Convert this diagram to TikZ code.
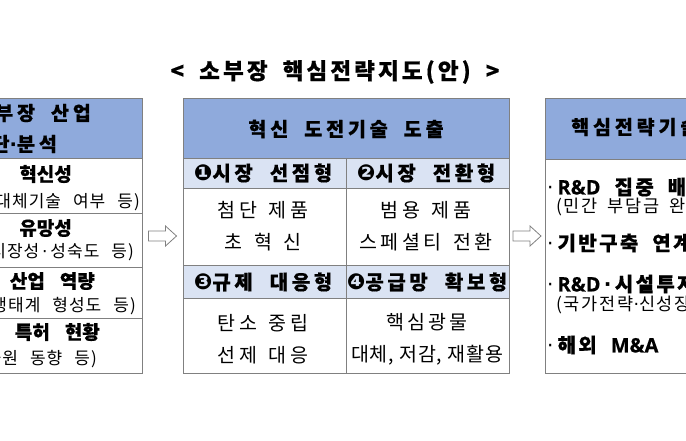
\documentclass[tikz,border=0pt]{standalone}
\usepackage{fontspec}
\setmainfont{Noto Sans CJK KR}[BoldFeatures={FakeBold=0.5}]
\newfontfamily\symfont{DejaVu Sans}
\newfontfamily\latinfont{Open Sans}[BoldFeatures={FakeBold=0.5}]
\definecolor{headblue}{HTML}{8FAADC}
\definecolor{rowblue}{HTML}{DAE3F3}
\definecolor{framegray}{HTML}{808080}
\newcommand{\numb}[1]{{\symfont\bfseries\fontsize{22}{22}\selectfont #1}}
\newcommand{\mdot}{{\symfont ·}}
\newcommand{\bul}{{\mdseries\symfont ·}\hspace{4pt}}
\newcommand{\lat}[1]{{\latinfont #1}}
\newcommand{\flowarrow}[1]{\draw[arrowline] (#1) ++(-14,-5) -- ++(17,0) -- ++(0,-5)
  -- ++(11,10) -- ++(-11,10) -- ++(0,-5) -- ++(-17,0) -- cycle;}
\tikzset{
  frame/.style={draw=framegray, line width=0.8pt},
  arrowline/.style={draw=framegray, fill=white, line width=0.8pt, line join=miter},
  titletxt/.style={font={\fontsize{22.5}{26}\selectfont\bfseries\addfontfeature{LetterSpace=14}\spaceskip=15pt\relax}},
  headtxt/.style={font={\fontsize{19.5}{23}\selectfont\bfseries\addfontfeature{LetterSpace=20}\spaceskip=16pt\relax}},
  subtxt/.style={font={\fontsize{20}{23}\selectfont\bfseries\addfontfeature{LetterSpace=18}\spaceskip=17pt\relax}},
  celltxt/.style={font={\fontsize{19.5}{32}\selectfont\addfontfeature{LetterSpace=17}\spaceskip=12pt\relax}, align=center},
  itemtxt/.style={font={\fontsize{19}{23}\selectfont\bfseries\spaceskip=15pt\relax}},
  plantxt/.style={font={\fontsize{20}{23}\selectfont\bfseries\addfontfeature{LetterSpace=12}\spaceskip=14pt\relax}},
  notetxt/.style={font={\fontsize{17}{20}\selectfont\addfontfeature{LetterSpace=6}\spaceskip=12pt\relax}},
  plannote/.style={font={\fontsize{17.5}{20}\selectfont\addfontfeature{LetterSpace=10}\spaceskip=10pt\relax}}
}
\begin{document}
\begin{tikzpicture}[x=1pt, y=-1pt, every node/.style={inner sep=0pt}]
\useasboundingbox (0,0) rectangle (686,440);
\clip (0,0) rectangle (686,440);
\node[titletxt] (title) at (335,72) {< 소부장 핵심전략지도(안) >};

% left panel
\filldraw[frame, fill=headblue] (-150,98) rectangle (142,158);
\draw[frame] (-150,158) rectangle (142,373);
\foreach \y in {213,267,318} \draw[frame] (-150,\y) -- (142,\y);
\node[headtxt, anchor=east] (diagA) at (91,113) {소부장 산업};
\node[headtxt, anchor=east] (diagB) at (57,144) {진단\mdot 분석};
\node[itemtxt, anchor=east] (critA) at (72,174) {혁신성};
\node[notetxt, anchor=east] (noteA) at (140,202) {(원천성, 대체기술 여부 등)};
\node[itemtxt, anchor=east] (critB) at (72,228) {유망성};
\node[notetxt, anchor=east] (noteB) at (134,252) {(시장성\,\mdot\,성숙도 등)};
\node[itemtxt, anchor=east] (critC) at (95,281) {산업 역량};
\node[notetxt, anchor=east] (noteC) at (136,306) {(공급망\mdot 생태계 형성도 등)};
\node[itemtxt, anchor=east] (critD) at (100,332) {특허 현황};
\node[notetxt, anchor=east] (noteD) at (97,359) {(특허출원 동향 등)};

% middle panel
\fill[headblue] (183,98) rectangle (509,158);
\fill[rowblue] (183,158) rectangle (509,188);
\fill[rowblue] (183,265) rectangle (509,298);
\foreach \y in {158,188,265,298} \draw[frame] (183,\y) -- (509,\y);
\draw[frame] (346,158) -- (346,373);
\draw[frame] (183,98) rectangle (509,373);
\node[headtxt] (challenge) at (346,129) {혁신 도전기술 도출};
\node[subtxt] (typeA) at (263,173) {\numb{❶}시장 선점형};
\node[subtxt] (typeB) at (426,173) {\numb{❷}시장 전환형};
\node[subtxt] (typeC) at (263,282) {\numb{❸}규제 대응형};
\node[subtxt] (typeD) at (427,282) {\numb{❹}공급망 확보형};
\node[celltxt] (cellA) at (263,226) {첨단 제품\\초 혁 신};
\node[celltxt] (cellB) at (426,226) {범용 제품\\스페셜티 전환};
\node[celltxt] (cellC) at (263,339) {탄소 중립\\선제 대응};
\node[celltxt] (cellD) at (427,339) {핵심광물\\{\addfontfeature{LetterSpace=3}\spaceskip=6pt 대체, 저감, 재활용}};

% right panel
\filldraw[frame, fill=headblue] (545,98) rectangle (720,159);
\draw[frame] (545,159) rectangle (720,373);
\node[headtxt, anchor=west] (strategy) at (571,127) {핵심전략기술 지원방향};
\node[plantxt, anchor=west] (planA) at (547,187) {\bul\lat{R\&D} 집중 배분};
\node[plannote, anchor=west] (planAnote) at (556,207) {(민간 부담금 완화)};
\node[plantxt, anchor=west] (planB) at (547,243) {\bul 기반구축 연계};
\node[plantxt, anchor=west] (planC) at (547,284) {\bul\lat{R\&D}\,\mdot\,시설투자 세액공제};
\node[plannote, anchor=west] (planCnote) at (556,305) {(국가전략\mdot 신성장 기술 지정)};
\node[plantxt, anchor=west] (planD) at (547,345) {\bul 해외 \lat{M\&A}};

\coordinate (toMid) at (162.5,236);
\coordinate (toRight) at (527,236);
\flowarrow{toMid}
\flowarrow{toRight}
\end{tikzpicture}
\end{document}
